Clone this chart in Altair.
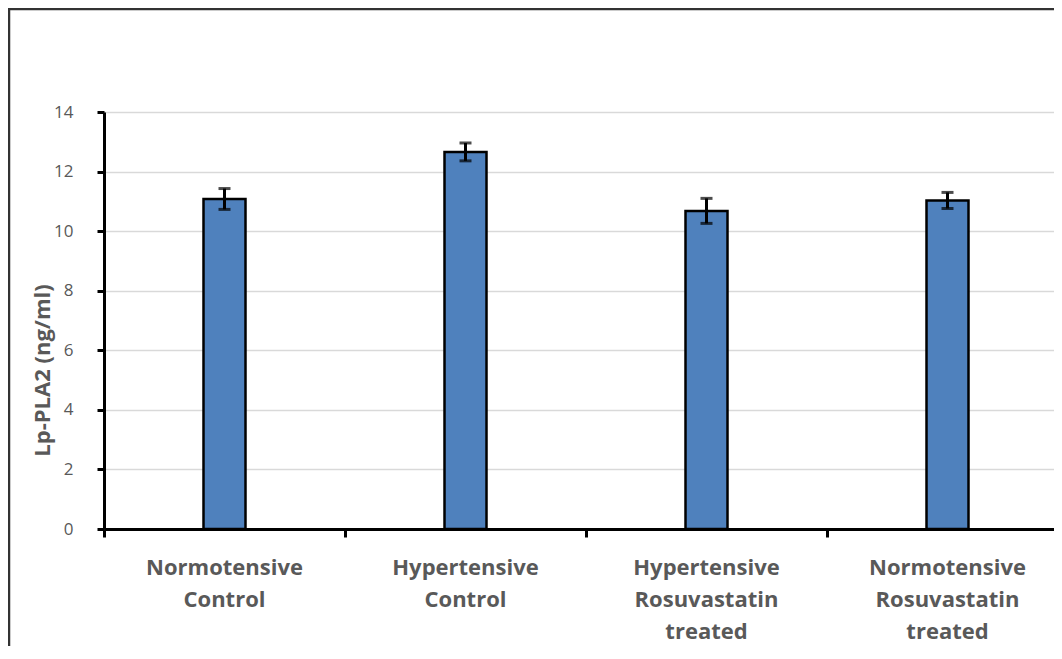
import altair as alt
import pandas as pd

# Data
categories = [
    "Normotensive|Control",
    "Hypertensive|Control",
    "Hypertensive|Rosuvastatin|treated",
    "Normotensive|Rosuvastatin|treated",
]
means = [11.08, 12.66, 10.68, 11.03]
errors = [0.35, 0.30, 0.42, 0.27]
y_ticks = [0, 2, 4, 6, 8, 10, 12, 14]

df = pd.DataFrame({"group": categories, "mean": means, "err": errors})
df["lo"] = df["mean"] - df["err"]
df["hi"] = df["mean"] + df["err"]

FONT = "Open Sans"
GRAY = "#595959"

x_enc = alt.X(
    "group:N",
    sort=categories,
    scale=alt.Scale(range=[0, 964], paddingInner=0, paddingOuter=0),
    axis=alt.Axis(
        title=None,
        labelAngle=0,
        labelExpr="split(datum.label, '|')",
        labelFont=FONT,
        labelFontSize=22,
        labelFontWeight="bold",
        labelColor=GRAY,
        labelLineHeight=32,
        labelPadding=20,
        labelBaseline="top",
        bandPosition=0,
        tickSize=8,
        tickWidth=3,
        tickColor="black",
        domainColor="black",
        domainWidth=3,
        grid=False,
    ),
)

y_scale = alt.Scale(domain=[0, 14], nice=False)

bars = alt.Chart(df).mark_bar(
    size=42, color="#4f81bd", stroke="black", strokeWidth=2.5
).encode(
    x=x_enc,
    y=alt.Y(
        "mean:Q",
        scale=y_scale,
        axis=alt.Axis(
            values=y_ticks,
            title="Lp-PLA2 (ng/ml)",
            titleFont=FONT,
            titleFontSize=22,
            titleFontWeight="bold",
            titleColor=GRAY,
            titleAngle=270,
            titleX=-62,
            titleY=258,
            titleBaseline="middle",
            titleAlign="center",
            labelFont=FONT,
            labelFontSize=17,
            labelColor=GRAY,
            labelPadding=24,
            tickSize=7,
            tickWidth=3,
            tickColor="black",
            domainColor="black",
            domainWidth=3,
            grid=True,
            gridColor="#d9d9d9",
            gridWidth=1.5,
        ),
    ),
)

rules = alt.Chart(df).mark_rule(color="black", strokeWidth=3).encode(
    x=alt.X("group:N", sort=categories),
    y=alt.Y("lo:Q", scale=y_scale),
    y2="hi:Q",
)

caps_hi = alt.Chart(df).mark_tick(color="black", size=12, thickness=3).encode(
    x=alt.X("group:N", sort=categories),
    y=alt.Y("hi:Q", scale=y_scale),
)
caps_lo = alt.Chart(df).mark_tick(color="black", size=12, thickness=3).encode(
    x=alt.X("group:N", sort=categories),
    y=alt.Y("lo:Q", scale=y_scale),
)

frame = alt.Chart(pd.DataFrame({"a": [0]})).mark_rect(
    fill=None, fillOpacity=0, stroke="#333333", strokeWidth=2.5, clip=False
).encode(
    x=alt.value(-95), x2=alt.value(1010), y=alt.value(-103), y2=alt.value(700)
)

chart = alt.layer(bars, rules, caps_hi, caps_lo, frame).properties(
    width=950,
    height=417,
    autosize=alt.AutoSizeParams(type="none"),
    padding={"left": 96, "top": 104, "right": 0, "bottom": 117},
).configure_view(stroke=None).configure(background="white")

chart.save("out.html", embed_options={"renderer": "svg", "actions": False})
